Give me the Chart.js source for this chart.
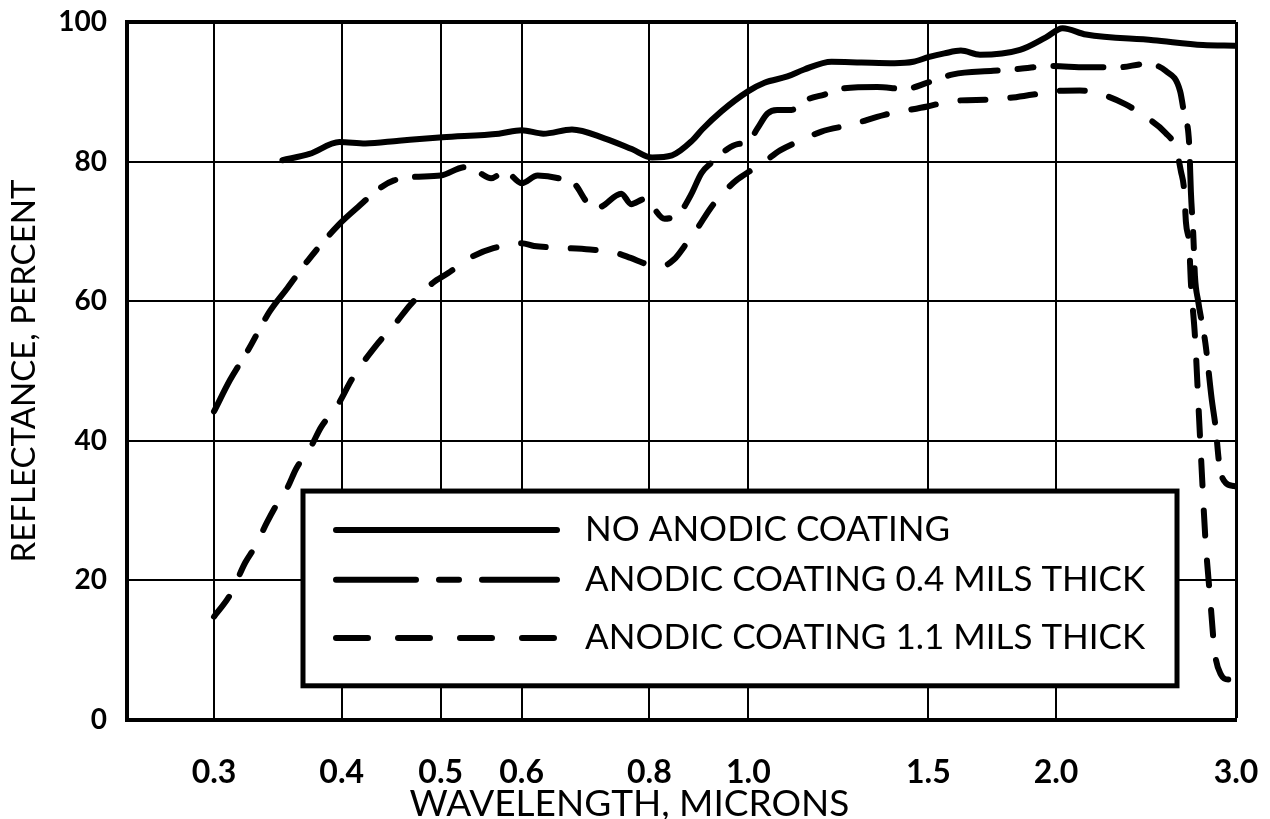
<!DOCTYPE html>
<html>
<head>
<meta charset="utf-8">
<script src="https://cdn.jsdelivr.net/npm/chart.js@4.4.1/dist/chart.umd.min.js"></script>
<style>
    html, body { margin: 0; padding: 0; background: #fff; }
</style>
</head>
<body>
<canvas id="grafico" width="1270" height="819"></canvas>
<script>
// valori: lunghezza d'onda (micron) e riflettanza (%)
const noCoatX = [0.350, 0.372, 0.398, 0.422, 0.455, 0.502, 0.570, 0.600, 0.630, 0.672, 0.724, 0.769, 0.805, 0.842, 0.881, 0.901, 0.941, 1.000, 1.037, 1.092, 1.134, 1.206, 1.290, 1.390, 1.450, 1.503, 1.555, 1.614, 1.685, 1.844, 1.955, 2.030, 2.140, 2.490, 2.785, 2.990];
const noCoatY = [80.2, 81.1, 82.8, 82.6, 83.0, 83.5, 84.0, 84.5, 84.0, 84.6, 83.3, 81.8, 80.6, 80.9, 83.0, 84.6, 87.2, 90.1, 91.3, 92.2, 93.2, 94.3, 94.2, 94.1, 94.3, 95.0, 95.5, 95.9, 95.3, 96.0, 97.8, 99.1, 98.2, 97.4, 96.7, 96.6];

const coat04X = [0.300, 0.311, 0.324, 0.340, 0.354, 0.371, 0.397, 0.415, 0.438, 0.450, 0.469, 0.500, 0.528, 0.544, 0.560, 0.578, 0.600, 0.622, 0.657, 0.676, 0.696, 0.712, 0.751, 0.768, 0.791, 0.804, 0.828, 0.859, 0.879, 0.900, 0.921, 0.954, 0.976, 1.000, 1.021, 1.044, 1.067, 1.102, 1.142, 1.187, 1.241, 1.337, 1.421, 1.497, 1.586, 1.736, 1.844, 1.980, 2.140, 2.300, 2.450, 2.560, 2.645, 2.670, 2.700, 2.710, 2.725, 2.735, 2.755, 2.800, 2.840, 2.865, 2.890, 2.930, 2.990];
const coat04Y = [44.2, 48.7, 53.0, 58.5, 61.9, 65.9, 70.9, 73.5, 76.4, 77.3, 77.8, 78.0, 79.2, 78.5, 77.6, 78.6, 76.9, 78.0, 77.5, 76.8, 74.1, 73.4, 75.4, 73.9, 74.6, 73.7, 71.8, 72.9, 75.3, 78.4, 79.9, 81.8, 82.5, 82.8, 84.8, 86.9, 87.4, 87.4, 88.9, 89.6, 90.5, 90.7, 90.4, 91.3, 92.5, 93.0, 93.3, 93.7, 93.5, 93.5, 94.0, 93.0, 90.1, 86.7, 82.4, 75.7, 69.4, 63.6, 60.0, 54.0, 46.0, 42.0, 36.5, 34.0, 33.5];

const coat11X = [0.300, 0.311, 0.322, 0.329, 0.338, 0.345, 0.354, 0.361, 0.373, 0.382, 0.396, 0.410, 0.432, 0.452, 0.467, 0.491, 0.508, 0.537, 0.563, 0.600, 0.617, 0.645, 0.700, 0.739, 0.767, 0.796, 0.822, 0.846, 0.869, 0.892, 0.919, 0.946, 0.973, 1.005, 1.035, 1.074, 1.124, 1.179, 1.261, 1.359, 1.497, 1.586, 1.736, 1.900, 2.000, 2.110, 2.220, 2.340, 2.430, 2.560, 2.620, 2.650, 2.670, 2.680, 2.700, 2.710, 2.735, 2.760, 2.780, 2.800, 2.830, 2.860, 2.900, 2.950, 3.000];
const coat11Y = [14.8, 17.9, 22.6, 24.8, 28.3, 30.7, 33.3, 36.0, 39.1, 42.0, 45.0, 49.0, 53.6, 56.9, 59.5, 62.6, 64.0, 66.4, 67.6, 68.3, 67.9, 67.7, 67.4, 67.0, 66.2, 65.3, 65.0, 66.0, 68.2, 70.5, 73.4, 75.6, 77.3, 78.7, 79.9, 81.6, 83.0, 84.3, 85.3, 86.7, 87.9, 88.7, 88.9, 89.6, 90.1, 90.2, 89.6, 88.2, 86.7, 84.1, 81.9, 78.6, 75.7, 71.3, 68.0, 62.7, 55.0, 43.5, 34.4, 26.0, 17.5, 9.7, 6.5, 5.8, 6.5];

const seriesLabels = ["NO ANODIC COATING", "ANODIC COATING 0.4 MILS THICK", "ANODIC COATING 1.1 MILS THICK"];
const xTicks = [0.3, 0.4, 0.5, 0.6, 0.8, 1.0, 1.5, 2.0, 3.0];
const yTicks = [0, 20, 40, 60, 80, 100];

const FONT = "Lato, 'DejaVu Sans', sans-serif";

function punti(xs, ys) {
    return xs.map((x, i) => ({x: x, y: ys[i]}));
}

// sfondo bianco
const sfondo = {
    id: "sfondo",
    beforeDraw(chart) {
        const ctx = chart.ctx;
        ctx.save();
        ctx.fillStyle = "#fff";
        ctx.fillRect(0, 0, chart.width, chart.height);
        ctx.restore();
    }
};

// legenda dentro il grafico, con riquadro bianco
const legendaBox = {
    id: "legendaBox",
    afterDatasetsDraw(chart) {
        const ctx = chart.ctx;
        const a = chart.chartArea;
        const w = a.right - a.left, h = a.bottom - a.top;
        const x0 = a.left + w * 0.1587, x1 = a.left + w * 0.9468;
        const y0 = a.top + h * 0.672, y1 = a.top + h * 0.951;
        const righe = [0.2, 0.455, 0.755];

        ctx.save();
        ctx.fillStyle = "#fff";
        ctx.fillRect(x0, y0, x1 - x0, y1 - y0);
        ctx.lineWidth = 5;
        ctx.strokeStyle = "#000";
        ctx.strokeRect(x0, y0, x1 - x0, y1 - y0);

        chart.data.datasets.forEach((ds, i) => {
            const y = y0 + (y1 - y0) * righe[i];
            ctx.beginPath();
            ctx.setLineDash(ds.legendDash || []);
            ctx.lineCap = "round";
            ctx.lineWidth = 6;
            ctx.moveTo(x0 + 33, y);
            ctx.lineTo(x0 + 254, y);
            ctx.stroke();
            ctx.setLineDash([]);
            ctx.fillStyle = "#000";
            ctx.font = "35px " + FONT;
            ctx.textBaseline = "middle";
            ctx.textAlign = "left";
            ctx.fillText(ds.label, x0 + 282, y);
        });
        ctx.restore();
    }
};

const comune = {
    borderColor: "#000",
    borderWidth: 6,
    pointRadius: 0,
    fill: false,
    cubicInterpolationMode: "monotone",
    borderCapStyle: "round",
    borderJoinStyle: "round"
};

const ctx = document.getElementById("grafico").getContext("2d");

const chart = new Chart(ctx, {
    type: "line",
    data: {
        datasets: [
            Object.assign({}, comune, {
                label: seriesLabels[0],
                data: punti(noCoatX, noCoatY),
                legendDash: []
            }),
            Object.assign({}, comune, {
                label: seriesLabels[1],
                data: punti(coat04X, coat04Y),
                borderDash: [50, 20, 16, 20],
                legendDash: [80, 23, 20, 23]
            }),
            Object.assign({}, comune, {
                label: seriesLabels[2],
                data: punti(coat11X, coat11Y),
                borderDash: [25, 25],
                legendDash: [32, 30]
            })
        ]
    },
    options: {
        responsive: false,
        animation: false,
        layout: {
            padding: {top: 22, right: 34, bottom: 0, left: 0}
        },
        plugins: {
            legend: {display: false},
            tooltip: {enabled: false}
        },
        scales: {
            x: {
                type: "logarithmic",
                min: 0.2466,
                max: 3.0,
                afterBuildTicks: function (s) {
                    s.ticks = xTicks.map(v => ({value: v}));
                },
                afterFit: function (s) {
                    // area del grafico fissa: niente margini extra per le etichette
                    s.height = 99;
                    s.paddingLeft = 0;
                    s.paddingRight = 0;
                },
                ticks: {
                    autoSkip: false,
                    maxRotation: 0,
                    padding: 33,
                    color: "#000",
                    font: {family: FONT, size: 32, weight: "bold"},
                    callback: v => Number(v).toFixed(1)
                },
                grid: {
                    color: "#000",
                    drawTicks: false,
                    lineWidth: c => (c.tick && c.tick.value === 3 ? 3 : 2)
                },
                border: {color: "#000", width: 4},
                title: {
                    display: true,
                    // spazi finali: il titolo nell'originale e' spostato a sinistra
                    text: "WAVELENGTH, MICRONS" + "\u00a0".repeat(11),
                    color: "#000",
                    font: {family: FONT, size: 37, lineHeight: 0.8},
                    padding: {top: 0, bottom: 0}
                }
            },
            y: {
                min: 0,
                max: 100,
                afterBuildTicks: function (s) {
                    s.ticks = yTicks.map(v => ({value: v}));
                },
                afterFit: function (s) {
                    s.width = 127;
                    s.paddingTop = 0;
                    s.paddingBottom = 0;
                },
                ticks: {
                    padding: 20,
                    color: "#000",
                    font: {family: FONT, size: 28, weight: "bold"}
                },
                grid: {
                    color: "#000",
                    drawTicks: false,
                    lineWidth: c => (c.tick && c.tick.value === 100 ? 4 : 2)
                },
                border: {color: "#000", width: 4},
                title: {
                    display: true,
                    text: "REFLECTANCE, PERCENT",
                    color: "#000",
                    font: {family: FONT, size: 33, lineHeight: 1},
                    padding: {top: 8, bottom: 0}
                }
            }
        }
    },
    plugins: [sfondo, legendaBox]
});
</script>
</body>
</html>
